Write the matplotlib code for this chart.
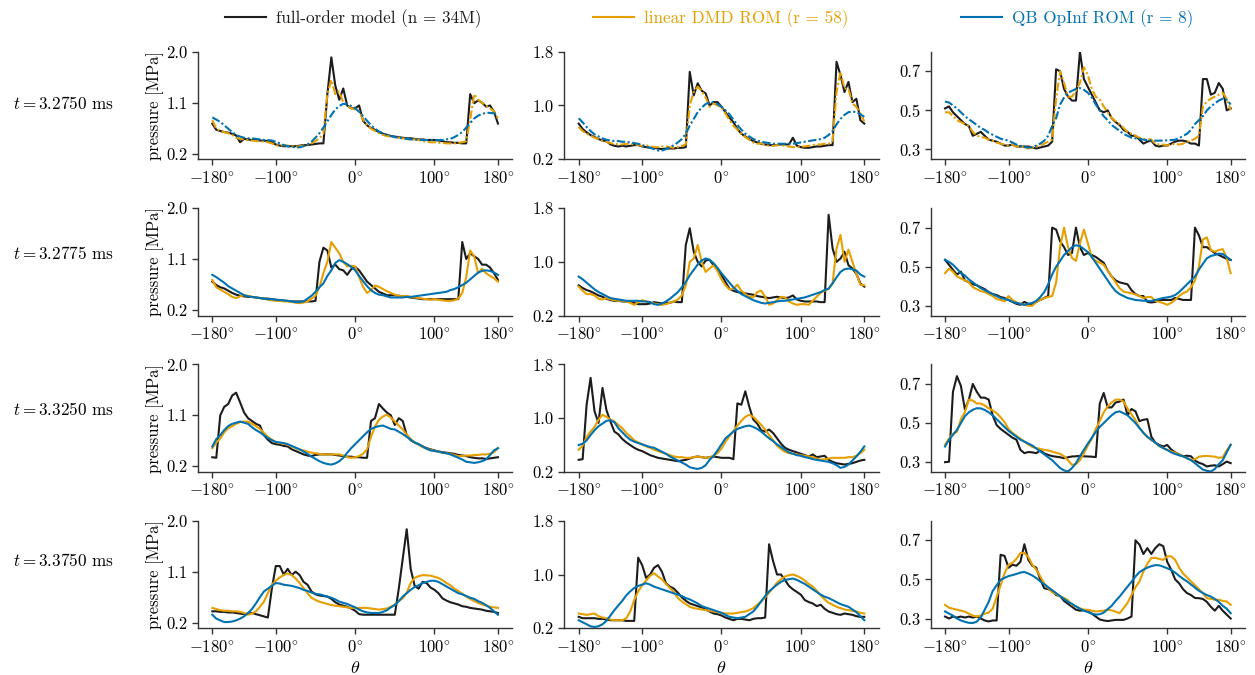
import numpy as np
import matplotlib.pyplot as plt

plt.rcParams['font.family'] = 'serif'
plt.rcParams['font.serif'] = ['cmr10']
plt.rcParams['mathtext.fontset'] = 'cm'
plt.rcParams['axes.formatter.use_mathtext'] = True

# angular grid (degrees), values read every 5 degrees
theta = np.arange(-180, 181, 5)

times = ['3.2750', '3.2775', '3.3250', '3.3750']
labels = ['full-order model (n = 34M)', 'linear DMD ROM (r = 58)', 'QB OpInf ROM (r = 8)']

#-----------------------------------
# row 1 : t = 3.2750 ms
#-----------------------------------
fom_1_1 = [.73, .62, .60, .58, .57, .55, .52, .40, .46, .45, .44, .44, .43, .43, .42, .40, .36, .34, .33, .33, .33, .33, .34, .35,
           .35, .36, .37, .38, .38, 1.25, 1.90, 1.40, 1.15, 1.35, 1.05, 1.00, 1.00, 1.05, .78, .70, .65, .62, .58, .55, .53, .51, .50, .49,
           .48, .47, .47, .46, .45, .45, .44, .44, .44, .43, .42, .40, .40, .39, .39, .38, .38, 1.25, 1.09, 1.14, 1.10, 1.03, 1.05, .94, .73]
dmd_1_1 = [.79, .64, .60, .58, .56, .53, .48, .46, .45, .44, .43, .42, .42, .41, .40, .38, .35, .34, .35, .34, .33, .32, .33, .34,
           .36, .38, .42, .47, .55, 1.25, 1.50, 1.25, 1.30, 1.10, 1.05, 1.00, .98, .95, .80, .70, .64, .60, .56, .53, .51, .50, .49, .48,
           .47, .46, .45, .45, .44, .42, .41, .40, .40, .39, .39, .38, .38, .38, .39, .40, .42, .80, 1.25, 1.15, 1.10, 1.05, 1.00, .95, .82]
opinf_1_1 = [.84, .80, .76, .70, .64, .58, .53, .50, .48, .47, .47, .46, .45, .44, .44, .43, .41, .38, .35, .33, .32, .31, .31, .33,
             .36, .41, .48, .56, .66, .77, .88, .98, 1.04, 1.08, 1.07, 1.04, 1.00, .94, .86, .78, .70, .64, .59, .56, .53, .51, .49, .48,
             .47, .46, .45, .45, .44, .44, .44, .44, .44, .44, .44, .45, .46, .49, .53, .58, .66, .74, .82, .87, .90, .92, .92, .91, .90]

fom_1_2 = [.73, .65, .60, .56, .53, .50, .48, .47, .42, .40, .39, .40, .39, .40, .41, .41, .39, .38, .37, .37, .36, .35, .36, .36,
           .36, .37, .37, .38, 1.50, 1.15, 1.33, 1.22, 1.18, 1.00, 1.05, 1.05, .98, .90, .82, .75, .65, .58, .54, .50, .47, .45, .43, .42,
           .41, .41, .41, .42, .42, .42, .52, .40, .38, .37, .37, .38, .39, .39, .40, .41, .41, 1.65, 1.45, 1.20, 1.35, 1.05, 1.10, .78, .73]
dmd_1_2 = [.68, .62, .58, .55, .52, .50, .47, .46, .44, .43, .42, .42, .43, .43, .42, .41, .40, .41, .39, .38, .38, .39, .39, .38,
           .37, .38, .40, .42, 1.00, 1.20, 1.28, 1.22, 1.12, .98, 1.03, 1.00, .97, .88, .78, .70, .64, .58, .53, .49, .45, .43, .44, .41,
           .40, .40, .41, .41, .40, .39, .38, .38, .39, .39, .40, .41, .42, .42, .43, .43, .47, 1.20, 1.50, 1.25, 1.25, 1.03, .98, .88, .76]
opinf_1_2 = [.81, .75, .68, .62, .57, .54, .51, .49, .48, .47, .47, .46, .46, .45, .44, .43, .41, .39, .37, .35, .33, .33, .35, .38,
             .41, .45, .50, .58, .70, .80, .90, .97, 1.02, 1.05, 1.05, 1.02, .98, .93, .87, .79, .71, .64, .58, .54, .50, .48, .46, .45,
             .44, .43, .43, .43, .43, .43, .43, .44, .45, .46, .47, .48, .49, .50, .52, .56, .62, .72, .80, .86, .90, .91, .90, .87, .83]

fom_1_3 = [.51, .52, .49, .47, .45, .43, .42, .37, .38, .39, .37, .35, .345, .34, .33, .32, .32, .325, .315, .315, .315, .315, .31, .305,
           .31, .315, .32, .34, .71, .70, .61, .57, .55, .55, .80, .66, .62, .58, .54, .50, .49, .50, .46, .44, .425, .40, .39, .37,
           .37, .35, .33, .34, .345, .32, .315, .32, .32, .33, .34, .345, .345, .34, .33, .33, .32, .66, .66, .58, .59, .64, .61, .50, .51]
dmd_1_3 = [.49, .49, .47, .45, .44, .43, .42, .39, .37, .365, .36, .35, .345, .335, .33, .325, .32, .325, .315, .315, .31, .305, .31, .315,
           .32, .33, .34, .35, .56, .70, .64, .57, .57, .60, .64, .72, .68, .61, .57, .555, .52, .49, .46, .445, .43, .41, .39, .38,
           .37, .36, .35, .355, .35, .33, .325, .325, .32, .325, .33, .325, .33, .34, .345, .355, .37, .52, .545, .56, .57, .58, .59, .56, .50]
opinf_1_3 = [.545, .54, .525, .51, .49, .47, .455, .44, .425, .41, .40, .385, .375, .365, .355, .35, .345, .335, .325, .318, .312, .31, .312, .32,
             .33, .345, .37, .42, .46, .53, .565, .59, .60, .61, .614, .605, .59, .565, .53, .50, .47, .45, .425, .41, .395, .38, .37, .36,
             .357, .355, .35, .348, .346, .345, .345, .346, .347, .348, .35, .357, .37, .38, .40, .43, .45, .47, .50, .52, .535, .55, .56, .555, .53]

#-----------------------------------
# row 2 : t = 3.2775 ms
#-----------------------------------
fom_2_1 = [.70, .64, .60, .58, .54, .50, .47, .45, .44, .43, .43, .42, .41, .40, .40, .39, .38, .37, .36, .36, .35, .35, .35, .35,
           .35, .35, .36, 1.05, 1.30, 1.25, .95, 1.00, .92, .90, .82, .92, .96, .90, .80, .70, .64, .58, .52, .49, .46, .46, .46, .45,
           .44, .43, .42, .41, .40, .39, .39, .39, .39, .39, .39, .39, .39, .39, .39, 1.40, 1.10, 1.20, 1.15, 1.10, 1.00, 1.00, .95, .85, .73]
dmd_2_1 = [.73, .60, .56, .52, .48, .43, .41, .44, .46, .45, .43, .42, .41, .40, .38, .37, .36, .36, .35, .35, .34, .33, .32, .33,
           .35, .40, .45, .60, .85, 1.05, 1.40, 1.30, 1.20, 1.05, .97, .98, .97, .78, .61, .50, .55, .63, .61, .57, .53, .50, .47, .45,
           .44, .45, .43, .42, .41, .40, .39, .38, .39, .38, .37, .36, .36, .37, .40, .50, .78, 1.25, 1.15, .85, .93, .85, .80, .76, .70]
opinf_2_1 = [.82, .78, .73, .68, .62, .58, .54, .50, .46, .44, .43, .42, .41, .40, .39, .39, .38, .375, .37, .36, .35, .335, .34, .35,
             .40, .45, .52, .60, .67, .80, .90, 1.03, 1.08, 1.05, 1.01, .96, .90, .80, .71, .62, .55, .50, .47, .46, .44, .42, .42, .42,
             .42, .43, .43, .44, .45, .46, .47, .48, .49, .50, .51, .52, .55, .57, .60, .64, .68, .74, .80, .86, .89, .90, .89, .86, .82]

fom_2_2 = [.65, .61, .58, .56, .53, .50, .48, .45, .43, .42, .42, .41, .41, .40, .39, .37, .37, .37, .38, .40, .39, .38, .39, .39,
           .41, .40, .40, 1.25, 1.50, 1.15, 1.00, .93, 1.02, 1.03, .95, .88, .80, .70, .60, .57, .55, .54, .53, .52, .51, .49, .48, .47,
           .46, .47, .48, .47, .46, .47, .50, .44, .42, .41, .41, .41, .41, .40, .40, 1.70, 1.20, 1.00, 1.05, 1.15, .95, .90, .82, .68, .63]
dmd_2_2 = [.63, .57, .52, .52, .50, .45, .44, .46, .44, .43, .42, .42, .41, .39, .36, .40, .43, .41, .40, .38, .37, .36, .37, .39,
           .41, .44, .50, .65, 1.00, 1.05, 1.25, 1.00, .85, .90, .95, .86, .74, .65, .59, .60, .66, .57, .52, .48, .47, .55, .57, .48,
           .36, .38, .43, .48, .47, .41, .38, .36, .37, .37, .36, .42, .48, .54, .57, .60, .68, 1.20, 1.40, 1.00, 1.18, 1.00, .82, .66, .65]
opinf_2_2 = [.78, .74, .69, .64, .59, .55, .52, .49, .46, .45, .44, .43, .42, .42, .42, .42, .41, .41, .40, .37, .36, .38, .41, .45,
             .50, .55, .62, .70, .80, .88, .96, 1.02, 1.05, 1.03, .98, .91, .83, .76, .69, .62, .57, .52, .49, .46, .43, .41, .39, .38,
             .39, .40, .41, .42, .42, .43, .44, .45, .46, .47, .49, .51, .53, .55, .58, .60, .68, .77, .85, .89, .90, .89, .87, .81, .78]

fom_2_3 = [.535, .51, .484, .46, .475, .43, .42, .41, .405, .395, .385, .37, .36, .355, .345, .34, .33, .32, .31, .305, .32, .31, .31, .32,
           .33, .34, .35, .70, .69, .63, .60, .56, .57, .70, .60, .56, .57, .56, .55, .535, .52, .48, .45, .43, .42, .415, .41, .38,
           .36, .35, .35, .32, .317, .32, .33, .33, .33, .33, .34, .335, .33, .33, .33, .70, .66, .60, .60, .585, .57, .56, .55, .54, .535]
dmd_2_3 = [.467, .49, .475, .45, .44, .43, .42, .395, .385, .375, .37, .36, .35, .335, .33, .322, .35, .33, .318, .31, .305, .30, .30, .32,
           .33, .34, .345, .35, .42, .60, .70, .60, .545, .53, .62, .69, .62, .545, .53, .52, .51, .48, .45, .42, .39, .373, .368, .364,
           .358, .35, .34, .345, .345, .325, .32, .314, .305, .315, .33, .35, .365, .373, .395, .43, .50, .64, .65, .585, .577, .585, .59, .545, .467]
opinf_2_3 = [.535, .525, .51, .49, .467, .455, .435, .42, .405, .39, .38, .37, .36, .35, .34, .335, .33, .32, .315, .31, .305, .31, .315, .325,
             .345, .37, .41, .46, .50, .53, .56, .58, .60, .61, .605, .59, .575, .55, .52, .49, .46, .43, .40, .375, .36, .35, .34, .335,
             .33, .328, .326, .325, .325, .33, .335, .34, .343, .347, .355, .37, .39, .41, .43, .45, .485, .515, .543, .555, .56, .567, .565, .55, .535]

#-----------------------------------
# row 3 : t = 3.3250 ms
#-----------------------------------
fom_3_1 = [.36, .35, 1.10, 1.25, 1.30, 1.45, 1.50, 1.33, 1.15, 1.05, 1.00, .95, .92, .75, .67, .61, .59, .58, .56, .55, .50, .47, .44, .41,
           .39, .38, .40, .41, .41, .41, .41, .40, .39, .38, .37, .37, .36, .36, .35, .35, 1.00, 1.05, 1.30, 1.22, 1.15, 1.10, .93, 1.05,
           1.00, .75, .66, .62, .59, .55, .52, .50, .48, .46, .45, .44, .43, .42, .40, .39, .38, .36, .35, .34, .34, .33, .34, .35, .36]
dmd_3_1 = [.52, .62, .69, .80, .87, .91, .95, .98, .99, .99, .95, .91, .86, .79, .72, .67, .63, .61, .60, .58, .55, .52, .49, .48,
           .46, .44, .43, .42, .41, .41, .41, .41, .41, .39, .36, .35, .36, .38, .42, .50, .72, .90, 1.02, 1.08, 1.11, 1.06, .99, .92,
           .85, .76, .68, .62, .58, .54, .51, .49, .47, .46, .44, .43, .42, .40, .38, .38, .39, .39, .40, .40, .41, .41, .42, .45, .52]
opinf_3_1 = [.55, .68, .75, .84, .91, .95, .97, .99, .97, .95, .89, .84, .80, .75, .70, .66, .63, .62, .61, .59, .56, .53, .50, .46,
             .42, .37, .33, .29, .26, .24, .23, .25, .29, .35, .44, .52, .59, .66, .73, .80, .86, .89, .91, .92, .89, .86, .85, .81,
             .77, .72, .67, .62, .59, .55, .51, .48, .47, .46, .44, .43, .41, .38, .35, .32, .28, .27, .26, .27, .29, .32, .40, .48, .52]

fom_3_2 = [.38, .39, 1.20, 1.60, 1.10, .93, 1.45, 1.12, .95, .80, .76, .69, .64, .60, .56, .53, .51, .48, .45, .43, .41, .40, .39, .38,
           .37, .36, .37, .38, .40, .42, .43, .42, .41, .42, .43, .42, .41, .41, .41, .39, 1.22, 1.20, 1.40, 1.17, .98, .92, .82, .80,
           .83, .78, .70, .62, .56, .53, .51, .49, .47, .45, .43, .46, .42, .43, .44, .38, .35, .33, .32, .31, .32, .33, .35, .37, .38]
dmd_3_2 = [.53, .59, .72, .80, .87, .98, 1.05, 1.02, .98, .95, .90, .85, .78, .73, .67, .64, .61, .58, .56, .53, .51, .49, .47, .45,
           .43, .42, .42, .41, .41, .42, .43, .42, .41, .42, .44, .48, .55, .65, .73, .81, .89, .96, 1.02, 1.05, 1.02, .96, .90, .83,
           .75, .67, .59, .54, .50, .48, .47, .46, .45, .44, .43, .42, .40, .38, .39, .40, .41, .41, .41, .41, .42, .42, .44, .48, .53]
opinf_3_2 = [.60, .62, .67, .75, .82, .88, .92, .96, .97, .94, .85, .79, .73, .68, .65, .63, .61, .59, .57, .56, .53, .50, .47, .43,
             .40, .37, .34, .31, .27, .255, .245, .26, .30, .38, .44, .52, .61, .70, .75, .80, .84, .86, .88, .89, .87, .84, .80, .75,
             .70, .66, .61, .57, .53, .49, .47, .45, .44, .42, .41, .39, .38, .37, .36, .35, .33, .30, .26, .275, .31, .37, .43, .50, .58]

fom_3_3 = [.30, .302, .66, .74, .69, .57, .62, .70, .66, .63, .63, .62, .54, .49, .47, .455, .44, .425, .415, .363, .346, .352, .35, .346,
           .36, .345, .337, .331, .328, .325, .32, .325, .329, .33, .332, .33, .329, .328, .326, .60, .654, .58, .58, .605, .61, .62, .54, .572,
           .56, .51, .517, .52, .43, .40, .388, .38, .388, .365, .35, .34, .33, .333, .33, .308, .297, .29, .278, .282, .284, .278, .29, .303, .295]
dmd_3_3 = [.389, .42, .445, .455, .52, .555, .62, .615, .60, .60, .59, .575, .565, .55, .53, .505, .47, .45, .435, .42, .405, .39, .378, .372,
           .368, .363, .36, .354, .348, .342, .33, .31, .286, .29, .31, .345, .385, .42, .47, .51, .555, .585, .605, .62, .62, .61, .575, .545,
           .515, .475, .45, .428, .413, .40, .382, .372, .362, .355, .348, .338, .33, .32, .312, .315, .328, .331, .332, .33, .328, .322, .325, .36, .389]
opinf_3_3 = [.38, .415, .44, .465, .50, .535, .555, .568, .576, .575, .567, .555, .54, .52, .50, .48, .46, .445, .43, .415, .405, .395, .385, .37,
             .355, .34, .325, .31, .29, .27, .258, .252, .27, .295, .33, .363, .395, .425, .455, .48, .50, .52, .54, .555, .56, .55, .54, .52,
             .50, .475, .45, .43, .415, .40, .383, .372, .363, .35, .342, .335, .33, .32, .31, .295, .278, .262, .256, .252, .265, .29, .31, .35, .389]

#-----------------------------------
# row 4 : t = 3.3750 ms
#-----------------------------------
fom_4_1 = [.40, .40, .39, .39, .38, .38, .37, .36, .35, .36, .37, .35, .33, .31, .29, .80, 1.20, 1.20, 1.05, 1.15, 1.04, 1.10, 1.04, .92,
           .87, .75, .70, .68, .67, .66, .62, .56, .52, .50, .48, .45, .41, .35, .34, .34, .34, .34, .34, .34, .34, .34, .34, .80,
           1.33, 1.85, 1.15, .85, .80, .92, .90, .82, .78, .72, .63, .59, .56, .54, .52, .49, .48, .46, .45, .44, .43, .41, .40, .39, .37]
dmd_4_1 = [.46, .44, .42, .41, .41, .40, .40, .39, .37, .34, .36, .40, .48, .57, .72, .87, .94, 1.00, 1.04, 1.07, 1.04, .98, .90, .81,
           .72, .64, .60, .57, .55, .53, .51, .50, .49, .48, .47, .46, .46, .46, .46, .46, .45, .44, .43, .44, .45, .48, .52, .58,
           .63, .73, .90, .99, 1.02, 1.04, 1.035, 1.03, 1.01, .99, .95, .90, .86, .80, .76, .71, .66, .62, .58, .55, .52, .50, .48, .47, .46]
opinf_4_1 = [.34, .27, .24, .21, .21, .22, .24, .27, .31, .37, .44, .54, .65, .75, .80, .85, .90, .89, .87, .86, .85, .83, .81, .78,
             .76, .73, .71, .70, .68, .66, .64, .61, .57, .55, .53, .50, .47, .43, .40, .38, .37, .37, .37, .39, .42, .47, .51, .58,
             .66, .72, .78, .83, .86, .90, .92, .94, .94, .92, .88, .84, .80, .76, .72, .70, .67, .64, .62, .58, .55, .51, .46, .40, .34]

fom_4_2 = [.37, .35, .35, .35, .35, .34, .34, .33, .32, .32, .32, .32, .31, .31, .31, 1.25, 1.14, .95, 1.00, 1.10, 1.14, 1.04, .87, .82,
           .79, .73, .66, .61, .57, .55, .53, .51, .48, .45, .42, .41, .39, .36, .34, .32, .34, .34, .33, .32, .34, .35, .35, .36,
           1.45, 1.20, 1.00, 1.00, .92, .83, .78, .74, .70, .62, .59, .57, .53, .55, .49, .45, .43, .41, .40, .42, .41, .40, .38, .37, .37]
dmd_4_2 = [.42, .41, .40, .41, .42, .38, .36, .35, .33, .32, .32, .32, .35, .45, .62, .75, .84, .91, .98, 1.02, .97, .93, .86, .80,
           .74, .65, .60, .56, .52, .50, .49, .48, .47, .46, .45, .44, .43, .42, .42, .42, .43, .44, .45, .47, .50, .55, .60, .66,
           .73, .80, .88, .93, .97, .99, 1.00, .98, .95, .91, .86, .82, .76, .69, .63, .58, .55, .52, .50, .48, .47, .46, .45, .43, .42]
opinf_4_2 = [.32, .29, .26, .23, .22, .23, .26, .31, .39, .47, .54, .61, .69, .75, .80, .83, .85, .87, .85, .82, .80, .78, .76, .74,
             .72, .70, .68, .65, .63, .60, .57, .53, .51, .49, .47, .45, .43, .40, .37, .36, .35, .36, .37, .41, .45, .52, .60, .68,
             .75, .80, .85, .89, .92, .93, .94, .92, .89, .86, .82, .78, .74, .70, .67, .65, .62, .59, .56, .54, .52, .48, .44, .38, .32]

fom_4_3 = [.31, .30, .31, .305, .31, .305, .31, .305, .31, .30, .29, .285, .29, .29, .626, .62, .56, .575, .57, .59, .68, .60, .57, .56,
           .50, .455, .45, .44, .42, .415, .39, .375, .36, .345, .34, .342, .336, .325, .31, .295, .29, .287, .29, .293, .293, .293, .30, .31,
           .70, .678, .63, .66, .63, .66, .68, .67, .59, .55, .50, .48, .45, .43, .42, .405, .404, .40, .385, .36, .34, .365, .34, .32, .30]
dmd_4_3 = [.37, .355, .35, .345, .34, .335, .325, .315, .31, .315, .325, .33, .35, .41, .47, .53, .575, .585, .605, .635, .635, .615, .575, .55,
           .515, .48, .455, .435, .425, .413, .405, .393, .37, .362, .352, .345, .345, .34, .336, .338, .34, .345, .342, .335, .327, .353, .38, .42,
           .46, .49, .54, .58, .61, .61, .605, .60, .618, .618, .60, .56, .53, .51, .49, .47, .45, .43, .404, .40, .396, .396, .39, .387, .37]
opinf_4_3 = [.336, .325, .315, .30, .29, .283, .278, .277, .284, .305, .345, .385, .44, .47, .498, .508, .517, .522, .528, .535, .538, .53, .52, .507,
             .49, .475, .46, .445, .43, .414, .40, .385, .375, .362, .35, .34, .333, .325, .32, .322, .33, .348, .365, .39, .412, .438, .463, .488,
             .515, .537, .55, .56, .568, .573, .572, .565, .557, .548, .535, .518, .503, .49, .474, .458, .442, .43, .42, .412, .40, .385, .365, .35, .327]

fom = [[fom_1_1, fom_1_2, fom_1_3], [fom_2_1, fom_2_2, fom_2_3],
       [fom_3_1, fom_3_2, fom_3_3], [fom_4_1, fom_4_2, fom_4_3]]
dmd = [[dmd_1_1, dmd_1_2, dmd_1_3], [dmd_2_1, dmd_2_2, dmd_2_3],
       [dmd_3_1, dmd_3_2, dmd_3_3], [dmd_4_1, dmd_4_2, dmd_4_3]]
opinf = [[opinf_1_1, opinf_1_2, opinf_1_3], [opinf_2_1, opinf_2_2, opinf_2_3],
         [opinf_3_1, opinf_3_2, opinf_3_3], [opinf_4_1, opinf_4_2, opinf_4_3]]

# per column y axis
ylims = [(0.1, 2.0), (0.2, 1.8), (0.25, 0.8)]
yticks = [[0.2, 1.1, 2.0], [0.2, 1.0, 1.8], [0.3, 0.5, 0.7]]
xticks = [-180, -100, 0, 100, 180]
xticklabels = [r'$-180^{\circ}$', r'$-100^{\circ}$', r'$0^{\circ}$', r'$100^{\circ}$', r'$180^{\circ}$']

c_fom = '#1c1c1c'
c_dmd = '#E69F00'
c_opinf = '#0072B2'

fig = plt.figure(figsize=(12.55, 6.75), dpi=100)
gs = fig.add_gridspec(4, 3, left=0.1578, right=0.992, top=0.9234, bottom=0.0692,
                      wspace=0.166, hspace=0.454)

row_label_y = [0.846, 0.624, 0.394, 0.169]
handles = None

for i in range(4):
    for j in range(3):
        ax = fig.add_subplot(gs[i, j])
        ls = (0, (4, 1.2, 1, 1.2)) if i == 0 else '-'
        l1, = ax.plot(theta, fom[i][j], color=c_fom, lw=1.5)
        l2, = ax.plot(theta, dmd[i][j], color=c_dmd, lw=1.5, ls=ls)
        l3, = ax.plot(theta, opinf[i][j], color=c_opinf, lw=1.5, ls=ls)
        if i == 1 and j == 0:
            handles = [l1, l2, l3]

        ax.set_ylim(*ylims[j])
        ax.set_yticks(yticks[j])
        ax.set_yticklabels(['%.1f' % v for v in yticks[j]])
        ax.set_xticks(xticks)
        ax.set_xticklabels(xticklabels)
        ax.tick_params(labelsize=12, direction='out', length=4, width=1, colors='#333333', labelcolor='black')
        for s in ['top', 'right']:
            ax.spines[s].set_visible(False)
        for s in ['left', 'bottom']:
            ax.spines[s].set_linewidth(1)
            ax.spines[s].set_color('#333333')

        if j == 0:
            ax.set_ylabel('pressure [MPa]', fontsize=12, labelpad=2)
        if i == 3:
            ax.set_xlabel(r'$\theta$', fontsize=13)

    fig.text(0.051, row_label_y[i], r'$t = ' + times[i] + r'$ ms', ha='center', va='center', fontsize=12.3)

leg = fig.legend(handles, labels, loc='center', bbox_to_anchor=(0.5649, 0.973), ncol=3, frameon=False,
                 fontsize=12.3, columnspacing=6.55, handlelength=2.4, handletextpad=0.6)
for txt, col in zip(leg.get_texts(), [c_fom, c_dmd, c_opinf]):
    txt.set_color(col)

plt.savefig('out.png', dpi=100)
